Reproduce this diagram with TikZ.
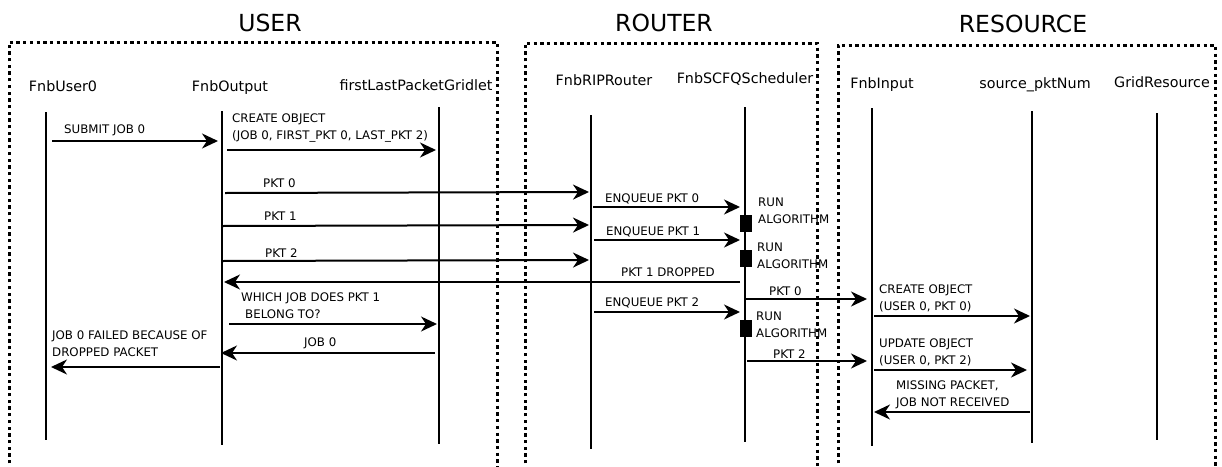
\documentclass[tikz,border=0pt]{standalone}
\usepackage{fontspec}
\setmainfont{DejaVu Sans}
\usetikzlibrary{arrows.meta}

\begin{document}
\begin{tikzpicture}[x=1pt,y=-1pt]
    % Define basic styles
    \tikzset{
        group/.style={line width=3pt, dash pattern=on 3.3pt off 3.4pt},
        title/.style={font=\fontsize{23.5}{28}\selectfont, inner sep=0pt},
        head/.style={font=\fontsize{14.3}{17}\selectfont, anchor=base, inner sep=0pt},
        life/.style={line width=2.8pt},
        msg/.style={line width=2pt, -{Stealth[length=16pt,width=15pt,inset=5pt]}},
        lbl/.style={font=\fontsize{11.8}{16.5}\selectfont, anchor=base west, align=left, inner sep=0pt},
        act/.style={fill=black, minimum width=12pt, minimum height=17pt, inner sep=0pt}
    }
    \useasboundingbox (0,0) rectangle (1222,466);

    % Groups
    \draw[group] (9,470) -- (9,42) -- (497,42) -- (497,470);
    \draw[group] (525,470) -- (525,43) -- (817,43) -- (817,470);
    \draw[group] (838,470) -- (838,45) -- (1215,45) -- (1215,470);
    \node[title] (usertitle) at (270,23) {USER};
    \node[title] (routertitle) at (664,23) {ROUTER};
    \node[title] (resourcetitle) at (1023,24) {RESOURCE};

    % Entities
    \node[head] (user0) at (63,91) {FnbUser0};
    \node[head] (output) at (230,91) {FnbOutput};
    \node[head] (gridlet) at (416,90) {firstLastPacketGridlet};
    \node[head] (router) at (604,85) {FnbRIPRouter};
    \node[head] (scheduler) at (745,83) {FnbSCFQScheduler};
    \node[head] (input) at (882,88) {FnbInput};
    \node[head] (pktnum) at (1035,88) {source\_pktNum};
    \node[head] (resource) at (1162,87) {GridResource};

    % Lifelines
    \coordinate (user0-top) at (46,112);      \coordinate (user0-bot) at (46,440);
    \coordinate (output-top) at (222,111);    \coordinate (output-bot) at (222,445);
    \coordinate (gridlet-top) at (439,107);   \coordinate (gridlet-bot) at (439,444);
    \coordinate (router-top) at (591,115);    \coordinate (router-bot) at (591,449);
    \coordinate (scheduler-top) at (745,107); \coordinate (scheduler-bot) at (745,442);
    \coordinate (input-top) at (872,108);     \coordinate (input-bot) at (872,446);
    \coordinate (pktnum-top) at (1032,111);   \coordinate (pktnum-bot) at (1032,443);
    \coordinate (resource-top) at (1157,113); \coordinate (resource-bot) at (1157,440);
    \draw[life] (user0-top) -- (user0-bot);
    \draw[life] (output-top) -- (output-bot);
    \draw[life] (gridlet-top) -- (gridlet-bot);
    \draw[life] (router-top) -- (router-bot);
    \draw[life] (scheduler-top) -- (scheduler-bot);
    \draw[life] (input-top) -- (input-bot);
    \draw[life] (pktnum-top) -- (pktnum-bot);
    \draw[life] (resource-top) -- (resource-bot);

    % Scheduler activations
    \node[act] (act1) at (745.5,223) {};
    \node[act] (act2) at (745.5,258) {};
    \node[act] (act3) at (745.5,328) {};
    \node[lbl] (run1) at (758,223) {RUN\\ALGORITHM};
    \node[lbl] (run2) at (757,268) {RUN\\ALGORITHM};
    \node[lbl] (run3) at (756,337) {RUN\\ALGORITHM};

    % User side messages
    \coordinate (submit-s) at (52,141);   \coordinate (submit-e) at (218,141);
    \draw[msg] (submit-s) -- (submit-e);
    \node[lbl] (submit-lbl) at (64,133) {SUBMIT JOB 0};

    \coordinate (create-s) at (227,150);  \coordinate (create-e) at (436,150);
    \draw[msg] (create-s) -- (create-e);
    \node[lbl] (create-lbl) at (232,139) {CREATE OBJECT\\(JOB 0, FIRST\_PKT 0, LAST\_PKT 2)};

    \coordinate (pkt0-s) at (225,193);    \coordinate (pkt0-e) at (589,192);
    \draw[msg] (pkt0-s) -- (pkt0-e);
    \node[lbl] (pkt0-lbl) at (263,187) {PKT 0};

    \coordinate (pkt1-s) at (222,226);    \coordinate (pkt1-e) at (589,225);
    \draw[msg] (pkt1-s) -- (pkt1-e);
    \node[lbl] (pkt1-lbl) at (264,220) {PKT 1};

    \coordinate (pkt2-s) at (222,261);    \coordinate (pkt2-e) at (589,260);
    \draw[msg] (pkt2-s) -- (pkt2-e);
    \node[lbl] (pkt2-lbl) at (265,257) {PKT 2};

    \coordinate (drop-s) at (740,282);    \coordinate (drop-e) at (224,282);
    \draw[msg] (drop-s) -- (drop-e);
    \node[lbl] (drop-lbl) at (621,276) {PKT 1 DROPPED};

    \coordinate (which-s) at (229,324);   \coordinate (which-e) at (437,324);
    \draw[msg] (which-s) -- (which-e);
    \node[lbl] (which-lbl) at (241,318) {WHICH JOB DOES PKT 1\\\hspace*{4pt}BELONG TO?};

    \coordinate (job-s) at (435,353);     \coordinate (job-e) at (221,353);
    \draw[msg] (job-s) -- (job-e);
    \node[lbl] (job-lbl) at (304,346) {JOB 0};

    \coordinate (fail-s) at (220,367);    \coordinate (fail-e) at (51,367);
    \draw[msg] (fail-s) -- (fail-e);
    \node[lbl] (fail-lbl) at (52,356) {JOB 0 FAILED BECAUSE OF\\DROPPED PACKET};

    % Router side messages
    \coordinate (enq0-s) at (593,207);    \coordinate (enq0-e) at (740,207);
    \draw[msg] (enq0-s) -- (enq0-e);
    \node[lbl] (enq0-lbl) at (605,202) {ENQUEUE PKT 0};

    \coordinate (enq1-s) at (594,240);    \coordinate (enq1-e) at (740,240);
    \draw[msg] (enq1-s) -- (enq1-e);
    \node[lbl] (enq1-lbl) at (606,235) {ENQUEUE PKT 1};

    \coordinate (enq2-s) at (594,312);    \coordinate (enq2-e) at (740,312);
    \draw[msg] (enq2-s) -- (enq2-e);
    \node[lbl] (enq2-lbl) at (605,306) {ENQUEUE PKT 2};

    \coordinate (fwd0-s) at (746,299);    \coordinate (fwd0-e) at (867,299);
    \draw[msg] (fwd0-s) -- (fwd0-e);
    \node[lbl] (fwd0-lbl) at (769,295) {PKT 0};

    \coordinate (fwd2-s) at (747,361);    \coordinate (fwd2-e) at (867,361);
    \draw[msg] (fwd2-s) -- (fwd2-e);
    \node[lbl] (fwd2-lbl) at (773,358) {PKT 2};

    % Resource side messages
    \coordinate (newobj-s) at (874,316);  \coordinate (newobj-e) at (1030,316);
    \draw[msg] (newobj-s) -- (newobj-e);
    \node[lbl] (newobj-lbl) at (879,310) {CREATE OBJECT\\(USER 0, PKT 0)};

    \coordinate (update-s) at (874,370);  \coordinate (update-e) at (1027,370);
    \draw[msg] (update-s) -- (update-e);
    \node[lbl] (update-lbl) at (879,364) {UPDATE OBJECT\\(USER 0, PKT 2)};

    \coordinate (missing-s) at (1030,412); \coordinate (missing-e) at (874,412);
    \draw[msg] (missing-s) -- (missing-e);
    \node[lbl] (missing-lbl) at (896,406) {MISSING PACKET,\\JOB NOT RECEIVED};
\end{tikzpicture}
\end{document}
